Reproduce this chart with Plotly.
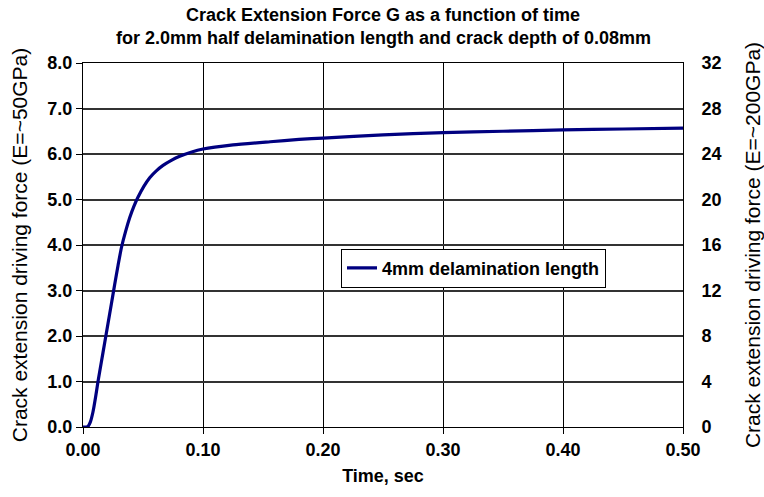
import plotly.graph_objects as go

time_s = [0.0, 0.004, 0.006, 0.0083, 0.0105, 0.0125, 0.0153, 0.018, 0.0208, 0.0236,
          0.0264, 0.0292, 0.032, 0.0355, 0.0389, 0.0424, 0.0458, 0.0507, 0.0556, 0.0611,
          0.0667, 0.0736, 0.0806, 0.09, 0.10, 0.125, 0.156, 0.18, 0.20, 0.25, 0.30,
          0.35, 0.40, 0.45, 0.50]
g_force = [0.0, 0.01, 0.1, 0.33, 0.66, 1.0, 1.43, 1.84, 2.27, 2.70,
           3.13, 3.55, 3.94, 4.30, 4.60, 4.85, 5.05, 5.29, 5.48, 5.63,
           5.75, 5.86, 5.95, 6.04, 6.11, 6.20, 6.27, 6.32, 6.35, 6.42, 6.47,
           6.50, 6.53, 6.55, 6.57]
series_name = "4mm delamination length"
left_ticks = [0, 1, 2, 3, 4, 5, 6, 7, 8]
right_ticks = [0, 4, 8, 12, 16, 20, 24, 28, 32]
x_ticks = [0.0, 0.1, 0.2, 0.3, 0.4, 0.5]
title_lines = ["Crack Extension Force G as a function of time",
               "for 2.0mm half delamination length and crack depth of 0.08mm"]

FONT = "Arial, Liberation Sans, sans-serif"

fig = go.Figure()
fig.add_trace(go.Scatter(x=time_s, y=g_force, mode="lines", name="<b>" + series_name + "</b>",
                         line=dict(color="#000080", width=3.2, shape="spline", smoothing=0.6)))
fig.add_trace(go.Scatter(x=[0, 0.5], y=[0, 32], yaxis="y2", mode="lines",
                         line=dict(width=0), showlegend=False, hoverinfo="skip",
                         opacity=0))

annotations = [
    dict(text="<b>" + title_lines[0] + "</b>", xref="paper", yref="paper",
         x=0.5, y=(427 - 15) / 364, xanchor="center", yanchor="middle",
         showarrow=False, font=dict(size=18, family=FONT, color="black")),
    dict(text="<b>" + title_lines[1] + "</b>", xref="paper", yref="paper",
         x=0.5, y=(427 - 38) / 364, xanchor="center", yanchor="middle",
         showarrow=False, font=dict(size=18, family=FONT, color="black")),
]

fig.update_layout(
    width=764, height=497,
    margin=dict(l=83, r=81, t=63, b=70, autoexpand=False),
    paper_bgcolor="white", plot_bgcolor="white",
    font=dict(family=FONT, color="black"),
    annotations=annotations,
    xaxis=dict(range=[0, 0.5], tickvals=x_ticks, ticktext=[f"<b>{v:.2f}</b>" for v in x_ticks],
               showgrid=True, gridcolor="black", gridwidth=1,
               showline=True, linecolor="black", linewidth=1, mirror=True,
               ticks="outside", ticklen=6, tickcolor="black",
               tickfont=dict(size=18, family=FONT), automargin=False,
               title=dict(text="<b>Time, sec</b>", font=dict(size=18, family=FONT), standoff=10),
               zeroline=False),
    yaxis=dict(range=[0, 8], tickvals=left_ticks, ticktext=[f"<b>{v:.1f}</b>" for v in left_ticks],
               showgrid=True, gridcolor="#333333", gridwidth=1.5,
               showline=True, linecolor="black", linewidth=1,
               ticks="outside", ticklen=6, tickcolor="black",
               tickfont=dict(size=18, family=FONT), automargin=False,
               title=dict(text="Crack extension driving force (E=~50GPa)",
                          font=dict(size=21, family=FONT), standoff=14),
               zeroline=False),
    yaxis2=dict(range=[0, 32], tickvals=right_ticks, ticktext=[f"<b>{v}</b>" for v in right_ticks],
                overlaying="y", side="right", showgrid=False,
                showline=True, linecolor="black", linewidth=1,
                ticks="", tickfont=dict(size=18, family=FONT), ticklabelstandoff=14,
                automargin=False,
                title=dict(text="Crack extension driving force (E=~200GPa)",
                           font=dict(size=21, family=FONT), standoff=30),
                zeroline=False),
    legend=dict(x=0.43, y=0.49, xanchor="left", yanchor="top",
                bgcolor="white", bordercolor="black", borderwidth=1,
                font=dict(size=18, family=FONT), itemwidth=30),
    showlegend=True,
)

fig.write_html("out.html", config={"displayModeBar": False},
               post_script="document.body.style.margin='0';")
